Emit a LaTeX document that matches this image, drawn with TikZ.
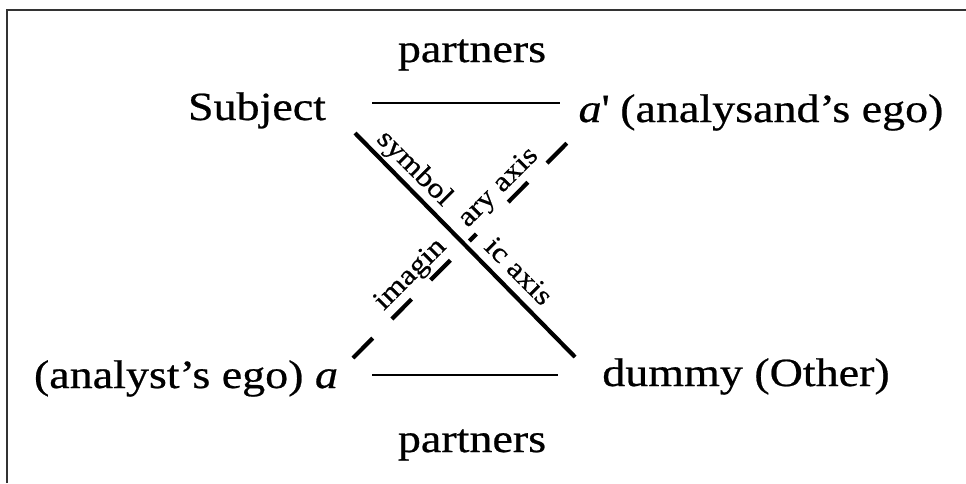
\documentclass[tikz,border=0pt]{standalone}
\usepackage{fontspec}
\setmainfont{Liberation Serif}[FakeStretch=1.15, FakeBold=0.6]
\definecolor{framecol}{HTML}{333333}
\tikzset{
  bigtxt/.style={font=\fontsize{40}{44}\selectfont, inner sep=0pt, text=black},
  axtxt/.style={font=\fontsize{28}{30}\selectfont, inner sep=0pt, text=black},
  partnerline/.style={draw=black, line width=1.6pt},
  symline/.style={draw=black, line width=4.2pt},
  imline/.style={draw=black, line width=4.2pt,
    dash pattern=on 28pt off 27pt on 28pt off 27pt on 28pt off 27pt on 10pt off 45pt on 28pt off 27pt on 28pt off 60pt},
}
\begin{document}
\begin{tikzpicture}[x=1pt,y=-1pt]
\useasboundingbox (0,0) rectangle (966,483);
\fill[white] (0,0) rectangle (966,483);
% frame (only top and left edges are visible)
\draw[framecol, line width=2pt] (7,483) -- (7,10) -- (966,10);

% main labels
\node[bigtxt, anchor=base] (ptop) at (472,62) {partners};
\node[bigtxt, anchor=base] (pbot) at (472,452) {partners};
\node[bigtxt, anchor=base] (subj) at (257,120) {Subject};
\node[bigtxt, anchor=base] (aprime) at (761,122) {\textit{a}\textquotesingle\ (analysand's ego)};
\node[bigtxt, anchor=base] (aego) at (186,388) {(analyst's ego) \textit{a}};
\node[bigtxt, anchor=base] (dummy) at (746,386) {dummy (Other)};

% line end points
\coordinate (t1) at (372,103);
\coordinate (t2) at (560,103);
\coordinate (b1) at (372,375);
\coordinate (b2) at (558,375);
\coordinate (s1) at (355,133);
\coordinate (s2) at (575,357);
\coordinate (i1) at (353,358);
\coordinate (i2) at (567,143);

% partner lines
\draw[partnerline] (t1) -- (t2);
\draw[partnerline] (b1) -- (b2);

% axes
\draw[symline] (s1) -- (s2);
\draw[imline] (i1) -- (i2);

% axis labels
\node[axtxt, rotate=-45] (sym1) at (414,169) {symbol};
\node[axtxt, rotate=-45] (sym2) at (519,271) {ic axis};
\node[axtxt, rotate=45] (im1) at (411,275) {imagin};
\node[axtxt, rotate=45] (im2) at (499,188) {ary axis};
\end{tikzpicture}
\end{document}
